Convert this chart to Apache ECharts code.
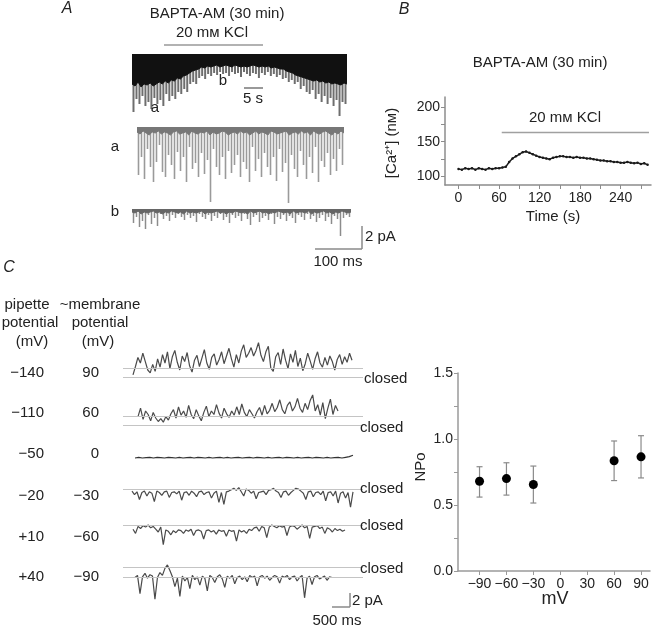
<!DOCTYPE html>
<html><head><meta charset="utf-8">
<script src="https://cdn.jsdelivr.net/npm/echarts@6/dist/echarts.min.js"></script>
<style>html,body{margin:0;padding:0;background:#fff}#c{width:652px;height:628px}</style>
</head><body><div id="c"></div>
<script>
// ---------- DATA ----------
// Panel A: compressed trace (depth of dense band and of spike tails, px-like units)
const aTopBand = [30,32,28,33,30,31,29,32,30,28,30,27,29,26,27,24,25,22,21,19,17,16,15,13,14,12,13,12,11,13,12,11,12,13,11,12,13,12,13,12,11,12,13,12,13,12,14,13,14,15,15,17,18,19,21,22,23,24,25,26,27,26,28,27,29,28,30,29,30,31,29,30];
const aTopSpike = [58,45,50,42,52,48,55,44,50,46,52,40,47,42,45,38,40,35,38,30,28,30,24,22,25,20,22,19,21,18,20,19,22,18,20,19,23,18,20,22,19,20,24,19,21,18,22,20,23,21,25,24,28,26,30,28,35,32,38,40,36,45,40,48,42,50,44,52,46,62,48,50];
// trace a (expanded, before KCl)
const aTraceBand = [5,7,4,6,8,5,6,4,7,5,6,8,5,4,7,6,5,8,4,6,7,5,6,4,8,5,7,6,4,5,8,6,5,7,4,6,5,8,6,4,7,5,6,8,4,5,7,6,5,4,8,6,5,7,4,6,5,8,4,6,7,5,4,6,8,5,7,4,6];
const aTraceSpike = [48,30,52,22,40,55,35,18,45,50,28,38,52,25,44,30,55,20,42,36,50,26,47,33,75,22,40,48,30,52,24,46,38,28,50,35,42,55,20,44,32,50,26,40,48,30,54,22,45,36,76,28,42,50,24,38,52,30,46,20,55,34,40,26,48,32,44,22,38];
// trace b (expanded, during KCl)
const bTraceBand = [3,4,2,5,3,4,3,2,4,3,5,3,4,2,3,4,3,5,2,4,3,4,3,2,5,3,4,3,2,4,3,5,3,4,2,3,4,3,5,2,4,3,2,4,3,5,3,4,2,3,4,3,5,2,4,3,3,4,2,5,3,4,3,2,4,3,5,3,4,2,3,4,3];
const bTraceSpike = [14,8,18,12,20,6,15,9,17,5,10,7,12,6,9,5,8,11,6,9,7,13,5,8,10,6,12,7,9,5,11,8,14,6,9,7,12,5,10,16,8,6,13,9,7,11,5,15,8,10,6,12,7,9,14,6,8,11,5,10,7,13,9,6,12,8,15,7,10,27,9,6,8];

// Panel B: [Ca2+] time course
const caTime = [0,5,10,15,20,25,30,35,40,45,50,55,60,65,70,75,80,85,90,95,100,105,110,115,120,125,130,135,140,145,150,155,160,165,170,175,180,185,190,195,200,205,210,215,220,225,230,235,240,245,250,255,260,265,270,275,280];
const caValues = [111,110,112,111,112,110,112,111,110,112,111,112,112,113,114,121,126,129,132,135,136,134,132,130,128,127,126,125,127,128,129,129,128,128,127,128,127,127,126,126,125,124,123,123,122,122,121,121,120,120,121,120,119,120,118,119,117];
const kclTime = [64, 282];
const kclLevel = 163;
const bXTicks = [0,30,60,90,120,150,180,210,240,270];
const bXLabels = [0,60,120,180,240];
const bYTicks = [100,125,150,175,200];
const bYLabels = [100,150,200];

// Panel C: single-channel traces (pA relative to closed level)
const cTrace1 = [0.3,1.5,2.8,2.0,3.4,2.2,1.0,0.6,1.8,0.8,2.6,1.4,3.2,2.0,3.6,1.2,2.9,3.8,2.1,1.0,3.0,2.2,3.5,1.6,0.7,2.4,3.1,1.5,2.7,3.9,2.0,1.1,2.8,3.3,1.7,2.5,3.6,1.9,3.0,4.1,2.6,1.4,3.2,2.0,3.7,4.6,2.8,3.4,4.2,3.0,3.8,4.9,3.1,2.2,3.6,4.4,1.3,0.8,2.9,3.5,1.8,4.0,2.4,1.2,3.3,2.1,3.8,1.5,2.7,0.9,1.9,3.4,2.3,1.1,2.6,3.6,2.0,1.4,2.8,1.7,3.0,2.2,1.0,2.5,3.2,1.8,2.9,2.1,3.4,2.4];
const cTrace2 = [1.2,2.4,0.8,2.0,1.5,0.6,1.8,1.0,0.5,0.9,0.4,1.2,0.7,1.6,2.2,1.0,2.6,1.4,2.0,1.1,2.8,1.5,0.9,2.2,1.3,0.6,1.8,2.7,1.2,2.0,1.5,2.9,1.7,1.0,2.4,1.6,1.1,2.0,1.4,2.6,1.5,3.0,1.8,1.2,2.2,1.6,1.0,1.9,2.5,1.4,2.8,1.6,2.1,3.1,1.9,2.5,3.6,2.2,1.6,2.8,3.3,2.0,2.6,3.8,2.4,1.8,3.1,2.2,3.5,4.3,2.0,2.9,1.4,3.2,0.9,2.4,3.7,1.5,2.8,2.0];
const cTrace3 = [0,0.1,0,0.05,0.1,0,0.1,0.05,0,0.1,0.05,0,0.1,0,0.05,0.1,0,0.1,0.05,0,0.1,0,0.05,0.1,0,0.1,0,0.05,0.1,0,0.05,0.1,0,0.1,0.05,0,0.1,0,0.05,0.1,0,0.1,0.05,0,0.1,0,0.05,0.1,0,0.1,0.05,0,0.1,0,0.05,0.1,0,0.1,0.2,0.4];
const cTrace4 = [-0.3,-0.8,-0.4,-1.5,-0.5,-0.3,-1.0,-0.4,-0.6,-1.8,-0.3,-0.5,-0.9,-0.4,-0.3,-1.2,-0.5,-0.4,-0.7,-0.3,-1.6,-0.5,-0.4,-0.9,-0.3,-0.6,-1.1,-0.4,-0.3,-0.8,-0.5,-0.4,-1.3,-0.6,-0.3,-1.9,-0.5,-2.2,-0.4,-0.3,-0.1,0.1,-0.2,0.2,-0.4,-1.0,0,-0.2,-0.6,-0.3,-1.4,-0.5,-0.4,-0.3,-0.8,-0.2,-0.1,0.1,-0.3,-0.5,-1.2,-0.4,-0.3,-0.9,-0.5,-0.2,0.1,0,-0.3,-0.6,-1.5,-0.4,-0.3,-1.1,-0.5,-0.4,-0.8,-0.3,-1.7,-0.5,-0.4,-1.0,-0.3,-2.0,-0.6,-0.4,-1.3,-0.5,-2.6,-0.4];
const cTrace5 = [-0.6,-1.2,-0.2,-0.5,-0.1,-0.3,0,-0.4,-0.2,-0.6,-1.0,-0.3,-2.8,-0.7,-0.9,-1.4,-0.8,-1.1,-0.7,-0.8,-1.2,-0.7,-0.9,-0.6,-1.5,-0.8,-0.7,-0.9,-2.0,-0.8,-0.7,-1.0,-0.8,-1.3,-0.7,-0.9,-0.8,-1.6,-0.7,-0.9,-0.8,-2.3,-0.7,-1.0,-0.8,-1.2,-0.6,-0.8,-0.4,-0.3,-0.9,-0.2,-0.4,-1.8,-0.3,0,-0.2,-0.4,-0.1,-0.3,-0.2,-1.5,-0.3,-0.1,-0.2,-0.6,-0.3,0,-0.4,-0.2,-1.9,-0.3,-0.2,-0.1,-0.5,-0.3,-1.2,-0.4,-0.6,-1.0,-0.5,-0.8,-0.6,-0.9,-0.7];
const cTrace6 = [-1.5,-1.2,-3.8,-1.4,-0.9,-1.6,-1.1,-1.3,-4.6,-1.5,-0.8,-1.2,-0.2,0.3,-0.5,-1.4,-2.8,-1.6,-4.2,-1.3,-2.0,-1.5,-3.1,-1.2,-1.8,-1.4,-2.6,-1.3,-1.6,-3.4,-1.2,-1.5,-2.2,-1.4,-1.1,-1.7,-2.9,-1.3,-1.6,-1.2,-2.4,-1.5,-1.3,-1.8,-1.4,-2.1,-1.2,-1.5,-1.3,-2.7,-1.4,-1.2,-1.6,-1.3,-1.9,-1.5,-1.2,-1.4,-2.3,-1.3,-1.5,-1.2,-1.8,-1.4,-1.3,-2.0,-1.5,-1.2,-4.4,-1.6,-1.3,-2.5,-1.4,-1.2,-1.7,-1.5,-1.3,-1.9,-1.4,-1.5];
const pipettePotential = ['\u2212140','\u2212110','\u221250','\u221220','+10','+40'];
const membranePotential = ['90','60','0','\u221230','\u221260','\u221290'];

// Panel C right: NPo vs membrane potential
const npoMv = [-90,-60,-30,60,90];
const npoMean = [0.68,0.70,0.655,0.835,0.865];
const npoLow = [0.56,0.575,0.515,0.685,0.705];
const npoHigh = [0.79,0.82,0.795,0.985,1.025];
const cXTicks = [-90,-60,-30,0,30,60,90];
const cYTicks = [0,0.25,0.5,0.75,1,1.25,1.5];
const cYLabels = [0,0.5,1,1.5];

// ---------- CHART ----------
const FF = '"Liberation Sans", Arial, sans-serif';
const TXT = '#222';
const chart = echarts.init(document.getElementById('c'), null, {renderer:'canvas'});
const grid=[], xAxis=[], yAxis=[], series=[], graphic=[];

function addBarTrace(g, band, spike, maxDepth, bandColor, spikeColor, spikeW){
  const gi = grid.length;
  grid.push(g);
  const cats = band.map((_,i)=>String(i));
  const xs = xAxis.length;
  xAxis.push({type:'category', gridIndex:gi, data:cats, show:false});
  xAxis.push({type:'category', gridIndex:gi, data:cats, show:false, boundaryGap:false});
  const yi = yAxis.length;
  yAxis.push({type:'value', gridIndex:gi, min:0, max:maxDepth, inverse:true, show:false});
  series.push({type:'bar', xAxisIndex:xs, yAxisIndex:yi, data:spike, barWidth:spikeW, itemStyle:{color:spikeColor}, silent:true, animation:false, z:2});
  series.push({type:'line', xAxisIndex:xs+1, yAxisIndex:yi, data:band, symbol:'none',
    lineStyle:{color:bandColor, width:1}, areaStyle:{color:bandColor, opacity:1}, silent:true, animation:false, z:3});
}

// Trace grid for panel C: 7 px per pA, closed level at closedY
const PX_PER_PA = 7;
function addLineTrace(vals, x0, x1, closedY, refs, refX0, refX1, color, w){
  const gi = grid.length;
  const half = 6;
  grid.push({left:refX0, width:refX1-refX0, top:closedY-half*PX_PER_PA, height:2*half*PX_PER_PA});
  const step = (x1-x0)/(vals.length-1);
  const xi = xAxis.length;
  xAxis.push({type:'value', gridIndex:gi, min:-(x0-refX0)/step, max:(vals.length-1)+(refX1-x1)/step, show:false});
  const yi = yAxis.length;
  yAxis.push({type:'value', gridIndex:gi, min:-half, max:half, show:false});
  series.push({type:'line', xAxisIndex:xi, yAxisIndex:yi, data:vals.map((v,i)=>[i,v]), symbol:'none',
    lineStyle:{color:color, width:w||1.2}, silent:true, animation:false, z:3,
    markLine: refs.length ? {silent:true, symbol:'none', label:{show:false}, animation:false,
      lineStyle:{color:'#c4c4c4', width:1, type:'solid'}, data:refs.map(r=>({yAxis:r}))} : undefined});
}

// Panel A traces
addBarTrace({left:132, top:54, width:215, height:62}, aTopBand, aTopSpike, 62, '#111', '#6e6e6e', 2);
addBarTrace({left:137, top:127, width:207, height:80}, aTraceBand, aTraceSpike, 80, '#777', '#9a9a9a', 1.6);
addBarTrace({left:132, top:209, width:219, height:30}, bTraceBand, bTraceSpike, 30, '#666', '#8c8c8c', 1.5);

// Panel B
(function(){
  const gi = grid.length;
  grid.push({left:445, top:97, width:206, height:88});
  const xi = xAxis.length, yi = yAxis.length;
  xAxis.push({type:'value', gridIndex:gi, min:-20, max:285, splitLine:{show:false},
    axisLine:{onZero:false, lineStyle:{color:'#8c8c8c', width:1.5}},
    axisTick:{customValues:bXTicks, length:4, lineStyle:{color:'#8c8c8c'}},
    axisLabel:{customValues:bXLabels, color:TXT, fontSize:14, fontFamily:FF, margin:6}});
  yAxis.push({type:'value', gridIndex:gi, min:88, max:214, splitLine:{show:false},
    axisLine:{show:true, onZero:false, lineStyle:{color:'#8c8c8c', width:1.5}},
    axisTick:{show:true, customValues:bYTicks, length:4, lineStyle:{color:'#8c8c8c'}},
    axisLabel:{customValues:bYLabels, color:TXT, fontSize:14, fontFamily:FF, margin:5}});
  series.push({type:'line', xAxisIndex:xi, yAxisIndex:yi, data:kclTime.map(t=>[t,kclLevel]), symbol:'none',
    lineStyle:{color:'#a0a0a0', width:1.5}, silent:true, animation:false});
  series.push({type:'line', xAxisIndex:xi, yAxisIndex:yi, data:caTime.map((t,i)=>[t,caValues[i]]),
    symbol:'circle', symbolSize:2.5, itemStyle:{color:'#1a1a1a', opacity:1}, lineStyle:{color:'#1a1a1a', width:1.5},
    silent:true, animation:false});
})();

// Panel C traces
addLineTrace(cTrace1, 133, 352, 377, [0, 1.3], 123, 363, '#4a4a4a');
addLineTrace(cTrace2, 138, 338, 425, [0, 1.3], 123, 363, '#4a4a4a');
addLineTrace(cTrace3, 135, 353, 458, [], 123, 363, '#333', 1.2);
addLineTrace(cTrace4, 132, 353, 489, [0], 123, 363, '#4a4a4a');
addLineTrace(cTrace5, 133, 345, 525, [0], 123, 363, '#4a4a4a');
addLineTrace(cTrace6, 135, 332, 567, [0, -1.4], 123, 363, '#4a4a4a');

// Panel C NPo plot
(function(){
  const gi = grid.length;
  grid.push({left:458, top:373, width:192, height:198});
  const xi = xAxis.length, yi = yAxis.length;
  xAxis.push({type:'value', gridIndex:gi, min:-114, max:100, splitLine:{show:false},
    axisLine:{onZero:false, lineStyle:{color:'#9a9a9a', width:1.5}},
    axisTick:{customValues:cXTicks, length:4, lineStyle:{color:'#9a9a9a'}},
    axisLabel:{customValues:cXTicks, color:TXT, fontSize:14, fontFamily:FF, margin:6,
      formatter:v=>String(v).replace('-','\u2212')}});
  yAxis.push({type:'value', gridIndex:gi, min:0, max:1.5, splitLine:{show:false},
    axisLine:{show:true, onZero:false, lineStyle:{color:'#9a9a9a', width:1.5}},
    axisTick:{show:true, customValues:cYTicks, length:4, lineStyle:{color:'#9a9a9a'}},
    axisLabel:{customValues:cYLabels, color:TXT, fontSize:14, fontFamily:FF, margin:5,
      formatter:v=>Number(v).toFixed(1)}});
  series.push({type:'custom', xAxisIndex:xi, yAxisIndex:yi, silent:true, animation:false,
    data:npoMv.map((m,i)=>[m, npoMean[i], npoLow[i], npoHigh[i]]),
    encode:{x:0, y:[2,3]},
    renderItem:function(params, api){
      const x=api.value(0);
      const pH=api.coord([x, api.value(3)]), pL=api.coord([x, api.value(2)]);
      const w=3, st={stroke:'#8a8a8a', lineWidth:1.2};
      return {type:'group', children:[
        {type:'line', shape:{x1:pH[0],y1:pH[1],x2:pL[0],y2:pL[1]}, style:st},
        {type:'line', shape:{x1:pH[0]-w,y1:pH[1],x2:pH[0]+w,y2:pH[1]}, style:st},
        {type:'line', shape:{x1:pL[0]-w,y1:pL[1],x2:pL[0]+w,y2:pL[1]}, style:st}
      ]};
    }});
  series.push({type:'scatter', xAxisIndex:xi, yAxisIndex:yi, data:npoMv.map((m,i)=>[m,npoMean[i]]),
    symbol:'circle', symbolSize:9, itemStyle:{color:'#000', opacity:1}, silent:true, animation:false, z:5});
})();

// ---------- TEXT & SCALE BARS ----------
function txt(x, y, s, o){
  o = o || {};
  const el = {type:'text', x:x, y:y, silent:true, z:10,
    style:{text:s, fill:o.fill||TXT, font:(o.italic?'italic ':'')+(o.size||15)+'px '+FF,
      textAlign:o.align||'center', textVerticalAlign:'middle', align:o.align||'center', verticalAlign:'middle'}};
  if (o.rot) el.rotation = o.rot;
  graphic.push(el);
}
function ln(x1,y1,x2,y2,c,w){
  graphic.push({type:'line', silent:true, z:10, shape:{x1:x1,y1:y1,x2:x2,y2:y2}, style:{stroke:c||'#777', lineWidth:w||1.5}});
}
// Panel A
txt(67, 9, 'A', {italic:true, size:16});
txt(217, 14, 'BAPTA-AM (30 min)');
txt(212, 33, '20 m\u043c KCl');
ln(164, 45, 263, 45, '#999', 1.5);
txt(223, 81, 'b');
txt(155, 108, 'a');
ln(244, 88, 263, 88, '#777', 1.5);
txt(253, 99, '5 s');
txt(115, 147, 'a');
txt(115, 212, 'b');
ln(362, 226, 362, 249, '#8a8a8a', 1.5);
ln(315, 249, 362, 249, '#8a8a8a', 1.5);
txt(365, 237, '2 pA', {align:'left'});
txt(338, 262, '100 ms');
// Panel B
txt(404, 10, 'B', {italic:true, size:16});
txt(540, 63, 'BAPTA-AM (30 min)');
txt(565, 118, '20 m\u043c KCl');
txt(392, 143, '[Ca\u00b2\u207a] (n\u043c)', {rot:Math.PI/2});
txt(553, 217, 'Time (s)');
// Panel C
txt(9, 268, 'C', {italic:true, size:16});
txt(27, 305, 'pipette');
txt(100, 305, '~membrane');
txt(30, 323, 'potential');
txt(100, 323, 'potential');
txt(32, 342, '(mV)');
txt(98, 342, '(mV)');
const rowY = [373, 413, 454, 496, 537, 577];
pipettePotential.forEach((s,i)=>txt(44, rowY[i], s, {align:'right'}));
membranePotential.forEach((s,i)=>txt(99, rowY[i], s, {align:'right'}));
const closedPos = [[364,379],[360,428],[360,489],[360,526],[360,569]];
closedPos.forEach(p=>txt(p[0], p[1], 'closed', {align:'left'}));
ln(350, 593, 350, 607, '#8a8a8a', 1.5);
ln(332, 607, 350, 607, '#8a8a8a', 1.5);
txt(352, 601, '2 pA', {align:'left'});
txt(337, 621, '500 ms');
txt(421, 467, 'NPo', {rot:Math.PI/2});
txt(555, 599, 'mV', {size:18});

chart.setOption({animation:false, backgroundColor:'#fff', grid:grid, xAxis:xAxis, yAxis:yAxis, series:series, graphic:graphic});
</script></body></html>
